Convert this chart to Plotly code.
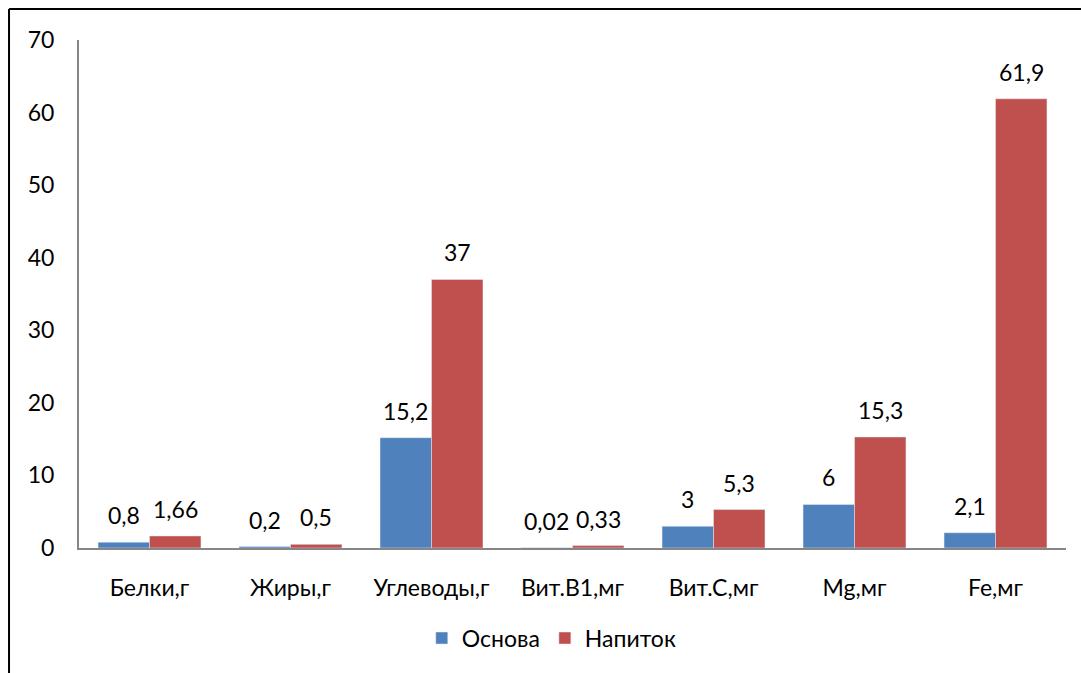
import plotly.graph_objects as go

categories = ["Белки,г", "Жиры,г", "Углеводы,г", "Вит.В1,мг", "Вит.С,мг", "Mg,мг", "Fe,мг"]
osnova = [0.8, 0.2, 15.2, 0.02, 3, 6, 2.1]
napitok = [1.66, 0.5, 37, 0.33, 5.3, 15.3, 61.9]
osnova_labels = ["0,8", "0,2", "15,2", "0,02", "3", "6", "2,1"]
napitok_labels = ["1,66", "0,5", "37", "0,33", "5,3", "15,3", "61,9"]
y_ticks = [0, 10, 20, 30, 40, 50, 60, 70]

FONT = "Lato"
SIZE = 23
BLUE = "#4F81BD"
RED = "#C0504D"

fig = go.Figure()
fig.add_trace(go.Bar(name="Основа", x=categories, y=osnova, marker_color=BLUE))
fig.add_trace(go.Bar(name="Напиток", x=categories, y=napitok, marker_color=RED))

# value labels above each bar
bar_half = 25.7
annotations = []
for cat, v, t in zip(categories, osnova, osnova_labels):
    annotations.append(dict(x=cat, y=v, text=t, xshift=-bar_half, yshift=11,
                            yanchor="bottom", showarrow=False,
                            font=dict(family=FONT, size=SIZE, color="#000")))
for cat, v, t in zip(categories, napitok, napitok_labels):
    annotations.append(dict(x=cat, y=v, text=t, xshift=bar_half, yshift=11,
                            yanchor="bottom", showarrow=False,
                            font=dict(family=FONT, size=SIZE, color="#000")))

# frame lines of the chart box (top and left)
shapes = [
    dict(type="line", xref="paper", yref="paper", x0=-0.0709, x1=1.02, y0=1.061, y1=1.061,
         line=dict(color="#000", width=2)),
    dict(type="line", xref="paper", yref="paper", x0=-0.0709, x1=-0.0709, y0=1.061, y1=-0.3,
         line=dict(color="#000", width=2)),
]

fig.update_layout(
    width=1081, height=673,
    margin=dict(l=79, r=15, t=40, b=125),
    paper_bgcolor="white", plot_bgcolor="white",
    barmode="group", bargap=0.27, bargroupgap=0,
    font=dict(family=FONT, size=SIZE, color="#000"),
    showlegend=True,
    legend=dict(orientation="h", x=0.479, xanchor="center", y=-0.135, yanchor="top",
                font=dict(family=FONT, size=SIZE), itemwidth=30, traceorder="normal"),
    annotations=annotations,
    shapes=shapes,
)
fig.update_xaxes(showline=True, linecolor="#868686", linewidth=2, ticks="",
                 showgrid=False, ticklabelstandoff=18)
fig.update_yaxes(range=[0, 70], tickvals=y_ticks, showline=True, linecolor="#868686",
                 linewidth=2, ticks="", showgrid=False, zeroline=False,
                 ticklabelstandoff=18)

fig.write_html("out.html")
